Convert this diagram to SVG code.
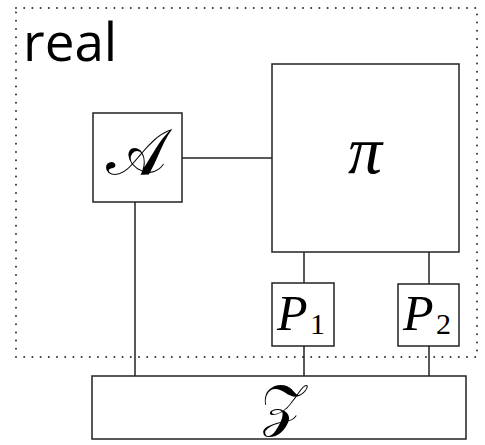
<svg xmlns="http://www.w3.org/2000/svg" width="485" height="445" viewBox="0 0 485 445">
<style>
.box{fill:#fff;stroke:#222;stroke-width:1.5}
.ln{stroke:#222;stroke-width:1.5;fill:none}
.m{font-family:"Liberation Serif","DejaVu Serif",serif;font-style:italic;fill:#000}
.s{font-family:"Liberation Serif","DejaVu Serif",serif;fill:#000}
</style>
<rect width="485" height="445" fill="#fff"/>
<g id="real-region">
<rect x="16" y="8" width="461" height="349" fill="none" stroke="#333" stroke-width="2" stroke-dasharray="0 8.2" stroke-linecap="round"/>
<text x="23" y="61" font-family="Open Sans, Noto Sans, sans-serif" font-size="53" fill="#000">real</text>
</g>
<g id="connectors">
<line class="ln" x1="182" y1="158" x2="272" y2="158"/>
<line class="ln" x1="135" y1="202" x2="135" y2="376"/>
<line class="ln" x1="304" y1="252" x2="304" y2="283"/>
<line class="ln" x1="429" y1="252" x2="429" y2="284"/>
<line class="ln" x1="304" y1="346" x2="304" y2="376"/>
<line class="ln" x1="429" y1="346" x2="429" y2="376"/>
</g>
<g id="A">
<rect class="box" x="93" y="113" width="89" height="89"/>
<text class="s" x="136" y="174" font-size="64" text-anchor="middle">𝒜</text>
</g>
<g id="pi">
<rect class="box" x="272" y="64" width="187" height="188"/>
<text class="m" x="365" y="173" font-size="68" text-anchor="middle">π</text>
</g>
<g id="P1">
<rect class="box" x="272" y="283" width="62" height="63"/>
<text class="m" x="277" y="330" font-size="50">P</text>
<text class="s" x="310" y="334" font-size="30">1</text>
</g>
<g id="P2">
<rect class="box" x="398" y="284" width="61" height="62"/>
<text class="m" x="403" y="330" font-size="50">P</text>
<text class="s" x="436" y="334" font-size="30">2</text>
</g>
<g id="Z">
<rect class="box" x="92" y="376" width="374" height="63"/>
<text class="s" x="283" y="425" font-size="58" text-anchor="middle">𝒵</text>
</g>
</svg>
